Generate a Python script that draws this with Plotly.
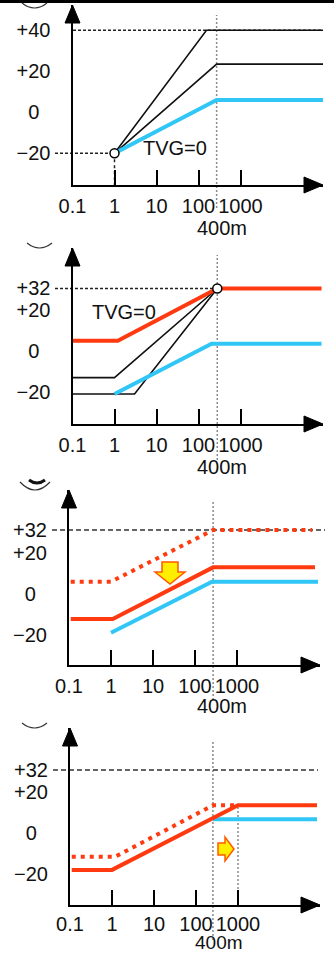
import math
import plotly.graph_objects as go

# ---------------- data ----------------
x_tickvals = [0.1, 1, 10, 100, 1000]
x_ticktext = ["0.1", "1", "10", "100", "1000"]
break_label = "400m"
tvg_label = "TVG=0"

# Panel 1
p1_yticks = [-20, 0, 20, 40]
p1_yticktext = ["−20", "0\u00a0\u00a0", "+20", "+40"]
p1_break = 270
p1_black_hi_x = [1, 155, 1e5]
p1_black_hi_y = [-20, 40, 40]
p1_black_mid_x = [1, 270, 1e5]
p1_black_mid_y = [-20, 23.5, 23.5]
p1_blue_x = [1, 270, 1e5]
p1_blue_y = [-20, 6, 6]
p1_origin = (1, -20)
p1_ref_lo = -20
p1_ref_hi = 40
p1_tvg = (27, -17.4)

# Panel 2
p2_yticks = [-20, 0, 20, 30.5]
p2_yticktext = ["−20", "0\u00a0\u00a0", "+20", "+32"]
p2_break = 280
p2_red_x = [0.1, 1.2, 280, 8.5e4]
p2_red_y = [5, 5, 30.5, 30.5]
p2_black1_x = [0.1, 1, 280]
p2_black1_y = [-13, -13, 30.5]
p2_black2_x = [0.1, 3.0, 280]
p2_black2_y = [-21, -21, 30.5]
p2_blue_x = [1, 205, 8.5e4]
p2_blue_y = [-21, 3.5, 3.5]
p2_ref = 30.5
p2_tvg = (1.68, 19)

# Panel 3
p3_yticks = [-20, 0, 20, 31.2]
p3_yticktext = ["−20", "0\u00a0\u00a0", "+20", "+32"]
p3_break = 270
p3_reddot_x = [0.11, 1, 270, 6.2e4]
p3_reddot_y = [6, 6, 31.2, 31.2]
p3_red_x = [0.11, 1.1, 270, 7.2e4]
p3_red_y = [-12.2, -12.2, 13, 13]
p3_blue_x = [1, 254, 8.5e4]
p3_blue_y = [-18.9, 6, 6]
p3_ref = 31.2

# Panel 4
p4_yticks = [-20, 0, 20, 30.7]
p4_yticktext = ["−20", "0\u00a0\u00a0", "+20", "+32"]
p4_break = 253
p4_break2 = 1000
p4_reddot_x = [0.11, 1.18, 253, 1000]
p4_reddot_y = [-11.6, -11.6, 13.5, 13.5]
p4_red_x = [0.11, 1, 1000, 7.6e4]
p4_red_y = [-18, -18, 13.5, 13.5]
p4_blue_x = [253, 7.6e4]
p4_blue_y = [6.7, 6.7]
p4_ref = 30.7

# ---------------- geometry / style ----------------
W, H = 334, 953
DEC = 42.0     # px per decade
UNIT = 2.05    # px per dB
RED = "#ff3a10"
BLUE = "#30c6f6"
BLK = "#111111"
FONT = "Liberation Sans, Arial, sans-serif"
FS = 20

# per panel: y-axis px, x-axis px, arrow top px, arrow right px, zero-dB px
geo = [
    dict(ax=72.5, ay=185, top=5, right=323, zero=112.3, lab_y=228, lab_dx=5, vtop=15, vbot=208, so=2, lfs=20),
    dict(ax=72.5, ay=424, top=248, right=323, zero=351, lab_y=467, lab_dx=5, vtop=255, vbot=460, so=2, lfs=20),
    dict(ax=69, ay=665, top=490, right=320, zero=594, lab_y=706, lab_dx=9, vtop=502, vbot=700, so=2, lfs=20),
    dict(ax=70, ay=905, top=728, right=320, zero=833, lab_y=942.5, lab_dx=6, vtop=742, vbot=940, so=0, lfs=19),
]

def px(x):
    return x / W

def py(y):
    return 1 - y / H

fig = go.Figure()
layout = dict(
    template="none",
    width=W, height=H, margin=dict(l=0, r=0, t=0, b=0, pad=0), autosize=False,
    paper_bgcolor="white", plot_bgcolor="rgba(0,0,0,0)",
    showlegend=False, font=dict(family=FONT, size=FS, color="#111"),
)
shapes = []
annotations = []

yticks_all = [(p1_yticks, p1_yticktext), (p2_yticks, p2_yticktext),
              (p3_yticks, p3_yticktext), (p4_yticks, p4_yticktext)]

ranges = []
for i, g in enumerate(geo):
    n = "" if i == 0 else str(i + 1)
    xr = [-1, -1 + (g["right"] - g["ax"]) / DEC]
    yr = [(g["zero"] - g["ay"]) / UNIT, (g["zero"] - g["top"]) / UNIT]
    ranges.append((xr, yr))
    layout["xaxis" + n] = dict(
        type="log", range=xr, domain=[px(g["ax"]), px(g["right"])],
        anchor="y" + n, showgrid=False, zeroline=False, automargin=False,
        showline=True, linecolor="black", linewidth=2,
        ticks="inside", ticklen=15, tickwidth=2, tickcolor="black",
        tickvals=x_tickvals, ticktext=x_ticktext, tickangle=0,
        tickfont=dict(family=FONT, size=FS, color="#111"),
        ticklabelstandoff=g["so"],
    )
    tv, tt = yticks_all[i]
    layout["yaxis" + n] = dict(
        range=yr, domain=[py(g["ay"]), py(g["top"])],
        anchor="x" + n, showgrid=False, zeroline=False, automargin=False,
        showline=True, linecolor="black", linewidth=2,
        ticks="", tickvals=tv, ticktext=tt, tickangle=0,
        tickfont=dict(family=FONT, size=FS, color="#111"),
        ticklabelstandoff=16,
    )
    # arrow heads
    a, b, t, r = g["ax"], g["ay"], g["top"], g["right"]
    shapes.append(dict(type="path", xref="paper", yref="paper",
                       path=f"M{px(a-7.5)},{py(t+18)} L{px(a)},{py(t)} L{px(a+7.5)},{py(t+18)} Z",
                       fillcolor="black", line=dict(color="black", width=1)))
    shapes.append(dict(type="path", xref="paper", yref="paper",
                       path=f"M{px(r-19)},{py(b-8)} L{px(r)},{py(b)} L{px(r-19)},{py(b+8)} Z",
                       fillcolor="black", line=dict(color="black", width=1)))

def xdom(i, v):
    xr = ranges[i][0]
    return (math.log10(v) - xr[0]) / (xr[1] - xr[0])

def xdom_px(i, p):
    g = geo[i]
    return (p - g["ax"]) / (g["right"] - g["ax"])

def line(i, xs, ys, color, width, dash="solid"):
    n = "" if i == 0 else str(i + 1)
    fig.add_trace(go.Scatter(x=xs, y=ys, mode="lines", xaxis="x" + n, yaxis="y" + n,
                             line=dict(color=color, width=width, dash=dash),
                             hoverinfo="skip"))

def ref_h(i, yv, x0px, x1frac, dash, color="#222"):
    n = "" if i == 0 else str(i + 1)
    shapes.append(dict(type="line", xref="x" + n + " domain", yref="y" + n,
                       x0=xdom_px(i, x0px), x1=x1frac, y0=yv, y1=yv,
                       line=dict(color=color, width=1.5, dash=dash), layer="below"))

def vdot(i, xv, top_px, bot_px):
    n = "" if i == 0 else str(i + 1)
    shapes.append(dict(type="line", xref="x" + n, yref="paper",
                       x0=xv, x1=xv, y0=py(bot_px), y1=py(top_px),
                       line=dict(color="#8a8a8a", width=1.5, dash="2px,2px"), layer="below"))

def label400(i, xv):
    n = "" if i == 0 else str(i + 1)
    g = geo[i]
    annotations.append(dict(x=math.log10(xv), y=py(g["lab_y"]), xref="x" + n, yref="paper",
                            text=break_label, showarrow=False, xshift=g["lab_dx"],
                            font=dict(family=FONT, size=g["lfs"], color="#111"),
                            xanchor="center", yanchor="middle"))

def circle(i, xv, yv):
    n = "" if i == 0 else str(i + 1)
    fig.add_trace(go.Scatter(x=[xv], y=[yv], mode="markers", xaxis="x" + n, yaxis="y" + n,
                             marker=dict(symbol="circle", size=9, color="white",
                                         line=dict(color="black", width=1.5)),
                             hoverinfo="skip"))

def text(i, xy, s):
    n = "" if i == 0 else str(i + 1)
    annotations.append(dict(x=math.log10(xy[0]), y=xy[1], xref="x" + n, yref="y" + n,
                            text=s, showarrow=False,
                            font=dict(family=FONT, size=FS, color="#111"),
                            xanchor="center", yanchor="middle"))

# ---- Panel 1 ----
vdot(0, p1_break, geo[0]["vtop"], geo[0]["vbot"])
ref_h(0, p1_ref_lo, 55, xdom(0, p1_origin[0]), "3px,2px")
ref_h(0, p1_ref_hi, 73, 1.0, "3px,2px")
shapes.append(dict(type="line", xref="x", yref="y", x0=1, x1=1, y0=-20, y1=ranges[0][1][0],
                   line=dict(color="#222", width=1.5, dash="3px,3px"), layer="below"))
line(0, p1_black_hi_x, p1_black_hi_y, BLK, 1.6)
line(0, p1_black_mid_x, p1_black_mid_y, BLK, 1.6)
line(0, p1_blue_x, p1_blue_y, BLUE, 4)
circle(0, *p1_origin)
text(0, p1_tvg, tvg_label)
label400(0, p1_break)

# ---- Panel 2 ----
vdot(1, p2_break, geo[1]["vtop"], geo[1]["vbot"])
ref_h(1, p2_ref, 55, xdom(1, p2_break), "3px,2px")
line(1, p2_black1_x, p2_black1_y, BLK, 1.6)
line(1, p2_black2_x, p2_black2_y, BLK, 1.6)
line(1, p2_blue_x, p2_blue_y, BLUE, 4)
line(1, p2_red_x, p2_red_y, RED, 4)
circle(1, p2_break, p2_ref)
text(1, p2_tvg, tvg_label)
label400(1, p2_break)

# ---- Panel 3 ----
vdot(2, p3_break, geo[2]["vtop"], geo[2]["vbot"])
ref_h(2, p3_ref, 52, 1.02, "5px,3px", "#333")
line(2, p3_reddot_x, p3_reddot_y, RED, 4, "4px,5px")
line(2, p3_red_x, p3_red_y, RED, 4)
line(2, p3_blue_x, p3_blue_y, BLUE, 4)
label400(2, p3_break)

# ---- Panel 4 ----
vdot(3, p4_break, geo[3]["vtop"], geo[3]["vbot"])
shapes.append(dict(type="line", xref="x4", yref="y4", x0=p4_break2, x1=p4_break2,
                   y0=ranges[3][1][0], y1=p4_red_y[-1],
                   line=dict(color="#8a8a8a", width=1.5, dash="2px,2px"), layer="below"))
ref_h(3, p4_ref, 53, xdom_px(3, 318), "5px,3px", "#333")
line(3, p4_blue_x, p4_blue_y, BLUE, 4)
line(3, p4_reddot_x, p4_reddot_y, RED, 4, "4px,5px")
line(3, p4_red_x, p4_red_y, RED, 4)
label400(3, p4_break)

# ---- decorations: yellow arrows, top bar, cut-off circled numbers ----
def ppath(pts):
    return "M" + " L".join(f"{px(x)},{py(y)}" for x, y in pts) + " Z"

shapes.append(dict(type="path", xref="paper", yref="paper",
                   path=ppath([(162, 562), (178, 562), (178, 572), (185, 572), (170, 584), (155, 572), (162, 572)]),
                   fillcolor="#ffee00", line=dict(color="#ff5a00", width=1.5)))
shapes.append(dict(type="path", xref="paper", yref="paper",
                   path=ppath([(218, 843), (225, 843), (225, 837), (234, 849), (225, 861), (225, 855), (218, 855)]),
                   fillcolor="#ffee00", line=dict(color="#ff5a00", width=1.5)))
shapes.append(dict(type="rect", xref="paper", yref="paper", x0=0, x1=1, y0=py(3), y1=1,
                   fillcolor="black", line=dict(width=0)))
for (x0, y0, cx, cy, x1) in [(22, 3, 34.5, 13, 47), (27, 243, 39.5, 253, 52),
                             (20, 482, 35, 498, 50), (22, 723, 34.5, 733, 47)]:
    shapes.append(dict(type="path", xref="paper", yref="paper",
                       path=f"M{px(x0)},{py(y0)} Q{px(cx)},{py(cy)} {px(x1)},{py(y0)}",
                       line=dict(color="#333", width=1.2)))
shapes.append(dict(type="path", xref="paper", yref="paper",
                   path=f"M{px(29)},{py(480)} Q{px(37)},{py(486)} {px(45)},{py(480)}",
                   line=dict(color="#111", width=3)))

layout["shapes"] = shapes
layout["annotations"] = annotations
fig.update_layout(**layout)
fig.write_html("out.html", config={"displayModeBar": False},
               post_script="document.body.style.margin='0';document.body.style.padding='0';"
                           "document.body.style.overflow='hidden';")
